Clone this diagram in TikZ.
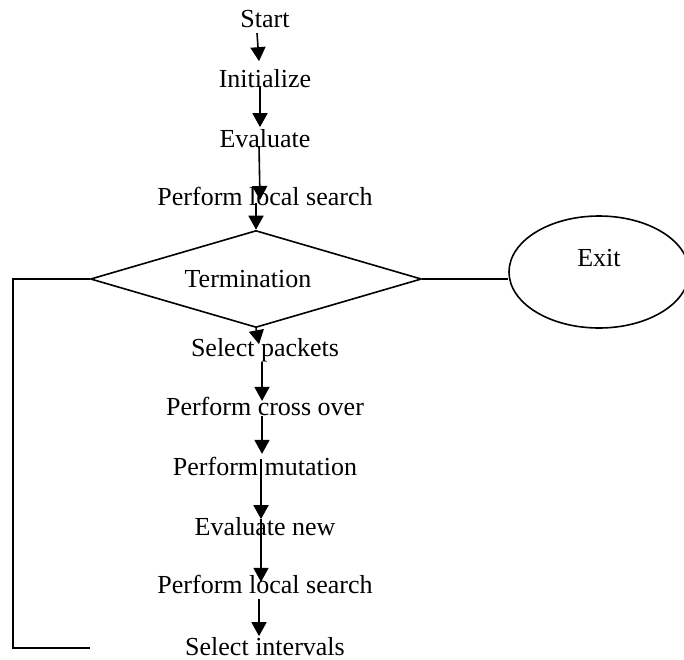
\documentclass[tikz,border=0pt]{standalone}
\usepackage{fontspec}
\setmainfont{Liberation Serif}
\usetikzlibrary{shapes.geometric}
\usetikzlibrary{arrows.meta}
\tikzstyle{steptext}=[inner sep=0pt,anchor=base,font=\fontsize{13}{15}\selectfont]
\tikzstyle{decision}=[draw,diamond,aspect=3.4,minimum width=165.5pt,minimum height=48.5pt,inner sep=0pt,font=\fontsize{13}{15}\selectfont]
\tikzstyle{exitnode}=[draw,ellipse,minimum width=90pt,minimum height=56pt,inner sep=0pt,text height=8.6pt,text depth=14.6pt,font=\fontsize{13}{15}\selectfont]
\tikzstyle{flowarrow}=[-{Triangle[length=7pt,width=7.5pt]}]

\begin{document}
\begin{tikzpicture}[x=0.5pt,y=-0.5pt,line width=0.8pt]
  \useasboundingbox (0,0) rectangle (684,659);
  \clip (0,0) rectangle (684,659);
  % steps before the test
  \node[steptext] (start) at (265,27) {Start};
  \node[steptext] (init) at (265,87) {Initialize};
  \node[steptext] (eval) at (265,147) {Evaluate};
  \node[steptext] (lsearch) at (265,205) {Perform local search};
  \node[decision] (term) at (256,279) {Termination\hspace*{8pt}};
  \node[exitnode] (exit) at (599,272) {Exit};
  % steps of the loop
  \node[steptext] (selpack) at (265,356) {Select packets};
  \node[steptext] (cross) at (265,415) {Perform cross over};
  \node[steptext] (mutate) at (265,475) {Perform mutation};
  \node[steptext] (evalnew) at (265,535) {Evaluate new};
  \node[steptext] (lsearchb) at (265,593) {Perform local search};
  \node[steptext] (selint) at (265,655) {Select intervals};
  \coordinate (loopend) at (90,648);

  \draw[flowarrow] ([shift={(-8,5)}]start.south) -- ([shift={(-6,-7)}]init.north);
  \draw[flowarrow] ([shift={(-5,-2)}]init.south) -- ([shift={(-5,-1)}]eval.north);
  \draw[flowarrow] ([shift={(-6,-2)}]eval.south) -- ([shift={(-5,-5)}]lsearch.base);
  \draw[flowarrow] ([shift={(-9,-2)}]lsearch.base) -- (term.north);
  \draw[flowarrow] (term.south) -- ([shift={(-6,7)}]selpack.north);
  \draw[flowarrow] ([shift={(-3,0)}]selpack.south) -- ([shift={(-3,5)}]cross.north);
  \draw[flowarrow] ([shift={(-3,0)}]cross.south) -- ([shift={(-3,-2)}]mutate.north);
  \draw[flowarrow] ([shift={(-4,3)}]mutate.north) -- ([shift={(-4,3)}]evalnew.north);
  \draw[flowarrow] ([shift={(-4,3)}]evalnew.north) -- ([shift={(-4,8)}]lsearchb.north);
  \draw[flowarrow] ([shift={(-6,5)}]lsearchb.south) -- ([shift={(-6,0)}]selint.north);
  % exit and loop back
  \draw (term.east) -- (term.east -| exit.west);
  \draw (term.west) -- ++(-77,0) |- (loopend);
\end{tikzpicture}
\end{document}
